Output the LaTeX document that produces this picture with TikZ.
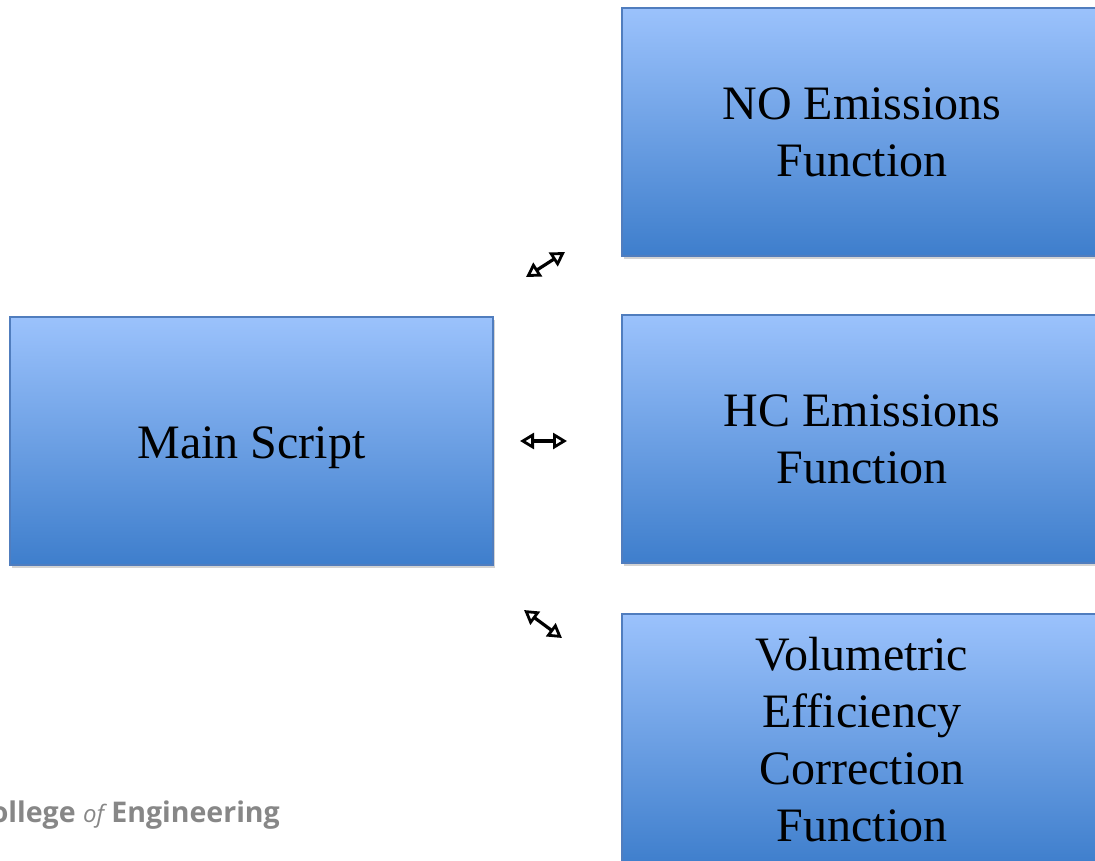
\documentclass[tikz,border=0pt]{standalone}
\usepackage{fontspec}
\setmainfont{Liberation Serif}
\newfontfamily\logofont{Open Sans}
\usetikzlibrary{arrows.meta,shadows}
\definecolor{boxtop}{RGB}{155,194,252}
\definecolor{boxbot}{RGB}{62,126,204}
\definecolor{boxline}{RGB}{80,125,190}
\definecolor{logogray}{RGB}{135,135,135}
\tikzset{
  funcbox/.style={rectangle, draw=boxline, line width=1.2pt, top color=boxtop, bottom color=boxbot,
    minimum width=480pt, inner sep=0pt, align=center,
    font=\fontsize{48}{57}\selectfont,
    drop shadow={opacity=0.35, shadow xshift=2pt, shadow yshift=-3pt}},
  linkarrow/.style={line width=3.2pt, {Triangle[open,length=14pt,width=16pt,line width=2.8pt]}-{Triangle[open,length=14pt,width=16pt,line width=2.8pt]}}
}
\begin{document}
\begin{tikzpicture}[x=1pt,y=-1pt]
\useasboundingbox (0,0) rectangle (1095,860);
\clip (0,0) rectangle (1095,860);
\node[font=\logofont\bfseries\fontsize{28.5}{32}\selectfont\color{logogray}, anchor=base east, inner sep=0pt] (logo) at (280,822) {College {\itshape\mdseries\fontsize{24}{26}\selectfont of} Engineering};
\node[funcbox, minimum width=483pt, minimum height=248pt, text height=45pt] (main) at (251.5,441) {Main Script};
\node[funcbox, minimum height=248pt] (no) at (862,132) {NO Emissions\\Function};
\node[funcbox, minimum height=248pt] (hc) at (862,439) {HC Emissions\\Function};
\node[funcbox, minimum height=252pt] (ve) at (862,740) {Volumetric\\Efficiency\\Correction\\Function};
\coordinate (a1s) at (526,277);
\coordinate (a1e) at (565,252);
\coordinate (a2s) at (520,441);
\coordinate (a2e) at (567,441);
\coordinate (a3s) at (524,610);
\coordinate (a3e) at (562,638);
\draw[linkarrow] (a1s) -- (a1e);
\draw[linkarrow] (a2s) -- (a2e);
\draw[linkarrow] (a3s) -- (a3e);
\end{tikzpicture}
\end{document}
